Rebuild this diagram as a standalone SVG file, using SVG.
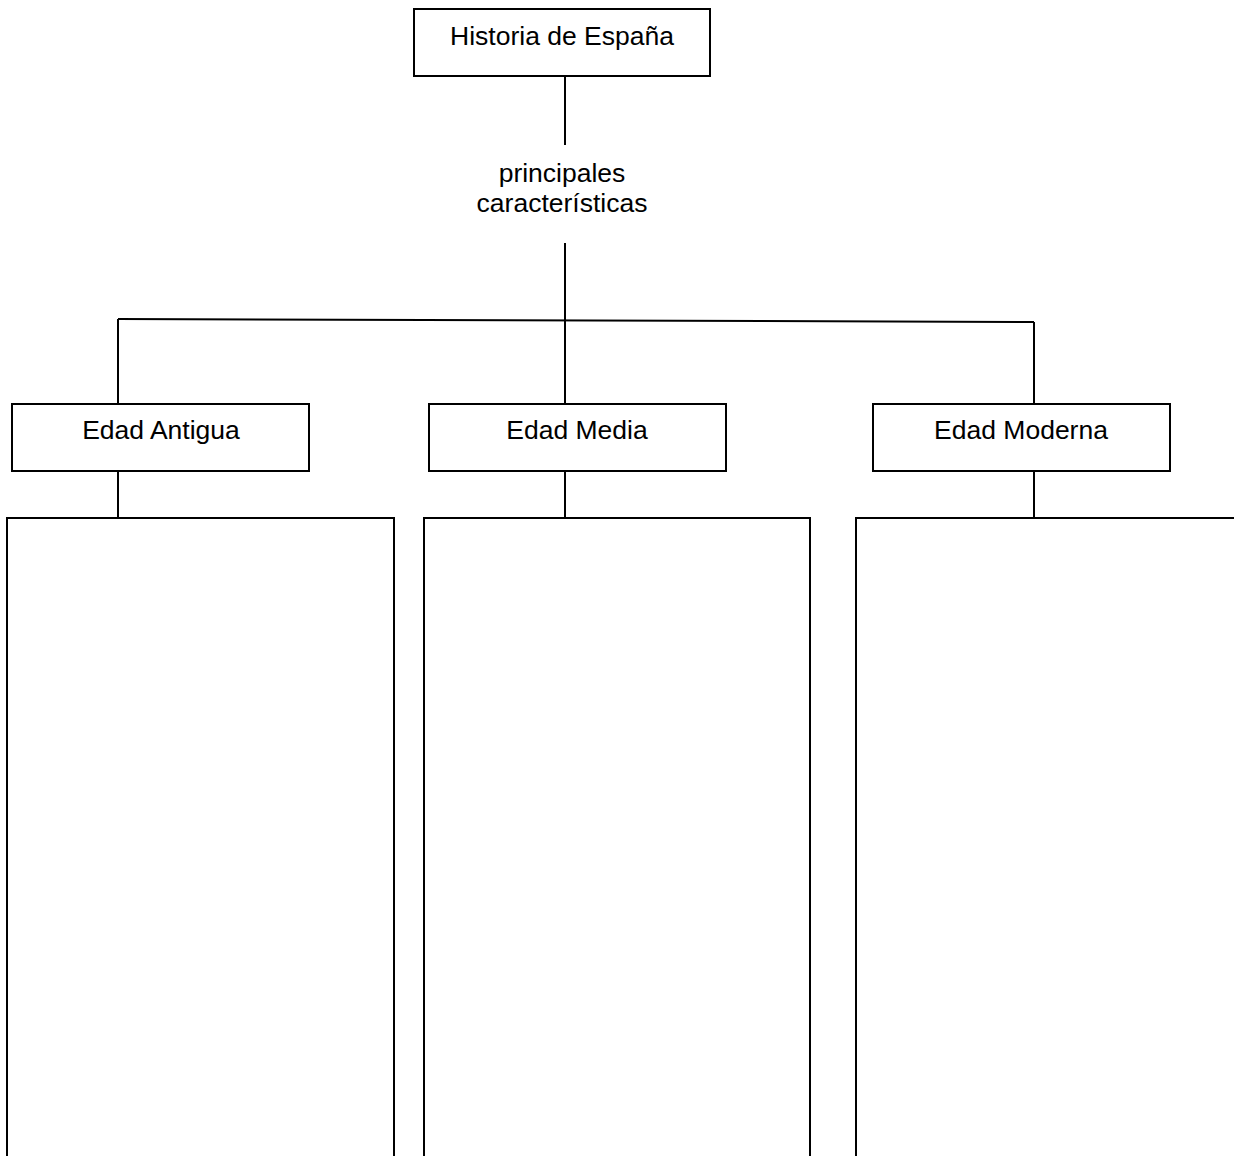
<svg xmlns="http://www.w3.org/2000/svg" width="1234" height="1156" viewBox="0 0 1234 1156">
<style>
.box{fill:#fff;stroke:#000;stroke-width:2}
.ln{stroke:#000;stroke-width:2;fill:none}
.t{font-family:"Liberation Sans",Arial,sans-serif;font-size:26.5px;fill:#000;text-anchor:middle}
</style>
<rect width="1234" height="1156" fill="#fff"/>
<g id="connectors">
<line class="ln" x1="565" y1="76" x2="565" y2="145"/>
<line class="ln" x1="565" y1="243" x2="565" y2="404"/>
<line class="ln" x1="118" y1="319" x2="1034" y2="322"/>
<line class="ln" x1="118" y1="319" x2="118" y2="404"/>
<line class="ln" x1="1034" y1="322" x2="1034" y2="404"/>
<line class="ln" x1="118" y1="471" x2="118" y2="518"/>
<line class="ln" x1="565" y1="471" x2="565" y2="518"/>
<line class="ln" x1="1034" y1="471" x2="1034" y2="518"/>
</g>
<g id="historia">
<rect class="box" x="414" y="9" width="296" height="67"/>
<text class="t" x="562" y="45">Historia de España</text>
</g>
<g id="caracteristicas">
<text class="t" x="562" y="182">principales</text>
<text class="t" x="562" y="212">características</text>
</g>
<g id="antigua">
<rect class="box" x="12" y="404" width="297" height="67"/>
<text class="t" x="161" y="439">Edad Antigua</text>
</g>
<g id="media">
<rect class="box" x="429" y="404" width="297" height="67"/>
<text class="t" x="577" y="439">Edad Media</text>
</g>
<g id="moderna">
<rect class="box" x="873" y="404" width="297" height="67"/>
<text class="t" x="1021" y="439">Edad Moderna</text>
</g>
<g id="antigua-content">
<rect class="box" x="7" y="518" width="387" height="660"/>
</g>
<g id="media-content">
<rect class="box" x="424" y="518" width="386" height="660"/>
</g>
<g id="moderna-content">
<rect class="box" x="856" y="518" width="400" height="660"/>
</g>
</svg>
